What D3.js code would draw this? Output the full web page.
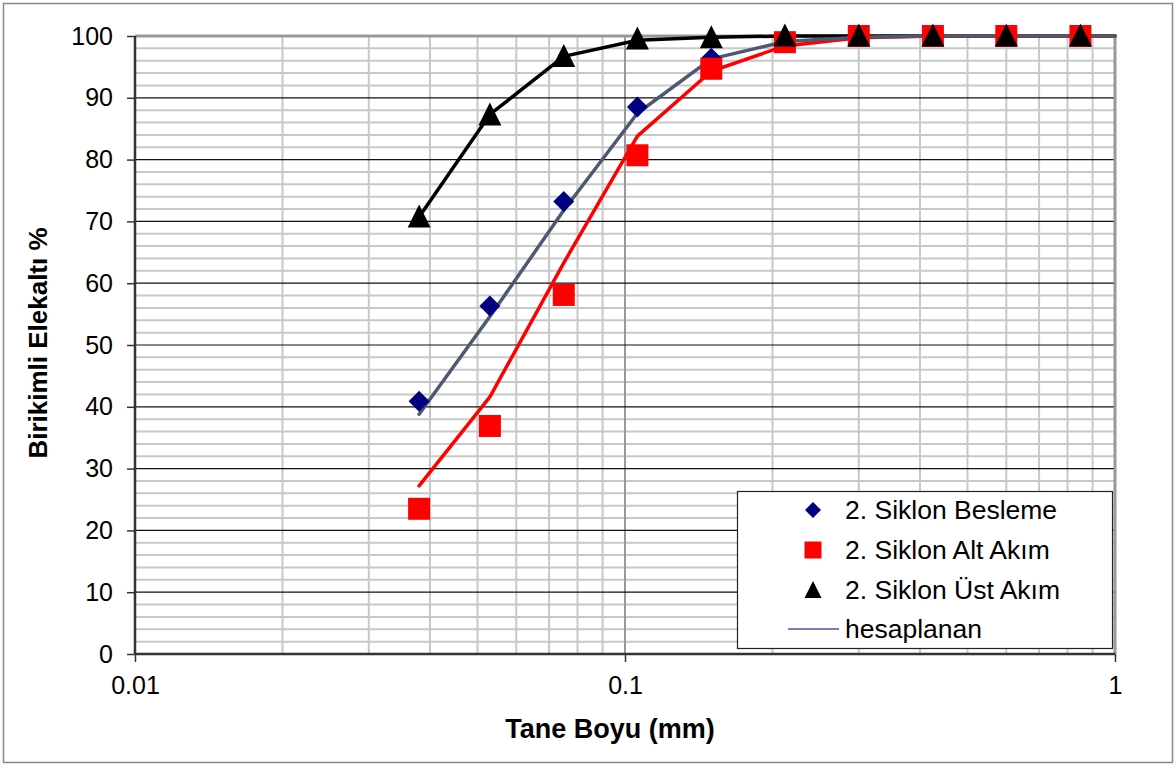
<!DOCTYPE html>
<html><head><meta charset="utf-8">
<script src="https://cdn.jsdelivr.net/npm/d3@7"></script>
<style>body{margin:0;background:#fff}svg{display:block}text{font-family:"Liberation Sans",Arial,sans-serif}</style>
</head><body>
<svg id="c" width="1176" height="766"></svg>
<script>
const sizes = [0.038, 0.053, 0.075, 0.106, 0.15, 0.212, 0.3, 0.425, 0.6, 0.85];
const besleme = [40.9, 56.3, 73.2, 88.5, 96.4, 99.4, 100, 100, 100, 100];
const altAkim = [23.5, 36.9, 58.1, 80.7, 94.7, 99.0, 100, 100, 100, 100];
const ustAkim = [70.7, 87.2, 96.7, 99.5, 99.7, 100, 100, 100, 100, 100];
const calcSizes = [0.038, 0.053, 0.075, 0.106, 0.15, 0.212, 0.3, 0.425, 0.6, 0.85, 1.0];
const calcBesleme = [38.8, 54.6, 71.8, 87.5, 96.3, 99.1, 99.8, 100, 100, 100, 100];
const calcAlt = [27.2, 41.6, 63.3, 83.8, 94.3, 98.4, 99.7, 100, 100, 100, 100];
const calcUst = [70.7, 87.3, 96.7, 99.3, 99.8, 100, 100, 100, 100, 100, 100];
const xTickLabels = ["0.01", "0.1", "1"];
const yTicks = [0, 10, 20, 30, 40, 50, 60, 70, 80, 90, 100];
const legendLabels = ["2. Siklon Besleme", "2. Siklon Alt Akım", "2. Siklon Üst Akım", "hesaplanan"];

const svg = d3.select("#c");
const L = 135, R = 1115, T = 36, B = 654;
const x = d3.scaleLog().domain([0.01, 1]).range([L, R]);
const y = d3.scaleLinear().domain([0, 100]).range([B, T]);

svg.append("rect").attr("x", 3.5).attr("y", 3.5).attr("width", 1169).attr("height", 759)
  .attr("fill", "#fff").attr("stroke", "#8a8a8a").attr("stroke-width", 1.5);

const g = svg.append("g");
d3.range(2, 100, 2).filter(v => v % 10 !== 0).forEach(v => {
  g.append("line").attr("x1", L).attr("x2", R).attr("y1", y(v)).attr("y2", y(v))
    .attr("stroke", "#c8c8c8").attr("stroke-width", 2);
});
[0.01, 0.1].forEach(d => {
  for (let k = 2; k <= 9; k++) {
    const v = d * k;
    g.append("line").attr("x1", x(v)).attr("x2", x(v)).attr("y1", T).attr("y2", B)
      .attr("stroke", "#c8c8c8").attr("stroke-width", 2);
  }
});
g.append("line").attr("x1", x(0.1)).attr("x2", x(0.1)).attr("y1", T).attr("y2", B)
  .attr("stroke", "#999").attr("stroke-width", 2);
yTicks.filter(v => v > 0 && v < 100).forEach(v => {
  g.append("line").attr("x1", L).attr("x2", R).attr("y1", y(v)).attr("y2", y(v))
    .attr("stroke", "#111").attr("stroke-width", 1.2);
});
svg.append("line").attr("x1", L).attr("x2", R + 1).attr("y1", T).attr("y2", T).attr("stroke", "#999").attr("stroke-width", 3);
svg.append("line").attr("x1", R).attr("x2", R).attr("y1", T).attr("y2", B).attr("stroke", "#999").attr("stroke-width", 3);

const yAxis = d3.axisLeft(y).tickValues(yTicks).tickSize(8).tickPadding(14).tickFormat(d3.format("d"));
const ya = svg.append("g").attr("transform", `translate(${L},0)`).call(yAxis);
const xAxis = d3.axisBottom(x).tickValues([0.01, 0.1, 1]).tickSize(8).tickPadding(14)
  .tickFormat((d, i) => xTickLabels[i]);
const xa = svg.append("g").attr("transform", `translate(0,${B})`).call(xAxis);
[ya, xa].forEach(a => {
  a.select(".domain").attr("stroke", "#333").attr("stroke-width", 2.5);
  a.selectAll(".tick line").attr("stroke", "#333").attr("stroke-width", 1.5);
  a.selectAll(".tick text").attr("font-size", 25).attr("fill", "#000")
    .style("font-family", '"Liberation Sans",Arial,sans-serif');
});
ya.select(".domain").attr("d", `M0,${B}V${T}`);
xa.select(".domain").attr("d", `M${L},0H${R}`);

svg.append("text").attr("x", 610).attr("y", 729).attr("text-anchor", "middle").attr("dominant-baseline", "central")
  .attr("font-weight", "bold").attr("font-size", 27).text("Tane Boyu (mm)");
svg.append("text").attr("transform", "translate(38,343) rotate(-90)").attr("text-anchor", "middle")
  .attr("dominant-baseline", "central").attr("font-weight", "bold").attr("font-size", 26).text("Birikimli Elekaltı %");

const line = d3.line().x(d => x(d[0])).y(d => y(d[1]));
const lines = [[calcUst, "#000"], [calcAlt, "#ff0000"], [calcBesleme, "#4b5a6e"]];
lines.forEach(([vals, col]) => {
  svg.append("path").attr("d", line(calcSizes.map((s, i) => [s, vals[i]])))
    .attr("fill", "none").attr("stroke", col).attr("stroke-width", 3.5)
    .attr("stroke-linecap", "round").attr("stroke-linejoin", "round");
});

const diamond = "M0,-10.5L10.5,0L0,10.5L-10.5,0Z";
const square = "M-11,-11H11V11H-11Z";
const tri = "M0,-12.5L11.5,10.5H-11.5Z";
const series = [[besleme, diamond, "#000080"], [altAkim, square, "#ff0000"], [ustAkim, tri, "#000"]];
series.forEach(([vals, shape, col]) => {
  svg.append("g").selectAll("path").data(sizes.map((s, i) => [s, vals[i]])).join("path")
    .attr("d", shape).attr("fill", col)
    .attr("transform", d => `translate(${x(d[0])},${y(d[1])})`);
});

const lg = svg.append("g");
lg.append("rect").attr("x", 737.5).attr("y", 491.5).attr("width", 375).attr("height", 157)
  .attr("fill", "#fff").attr("stroke", "#222").attr("stroke-width", 1.2);
const ly = [510, 550, 590, 629];
lg.append("path").attr("d", "M0,-8L8,0L0,8L-8,0Z").attr("fill", "#000080").attr("transform", `translate(813,${ly[0]})`);
lg.append("path").attr("d", "M-8.5,-8.5H8.5V8.5H-8.5Z").attr("fill", "#ff0000").attr("transform", `translate(813,${ly[1]})`);
lg.append("path").attr("d", "M0,-9L8.5,8H-8.5Z").attr("fill", "#000").attr("transform", `translate(813,${ly[2]})`);
lg.append("line").attr("x1", 788).attr("x2", 839).attr("y1", ly[3]).attr("y2", ly[3]).attr("stroke", "#5050a0").attr("stroke-width", 1.5);
legendLabels.forEach((t, i) => {
  lg.append("text").attr("x", 845).attr("y", ly[i]).attr("dominant-baseline", "central")
    .attr("font-size", 26.5).text(t);
});
</script>
</body></html>
